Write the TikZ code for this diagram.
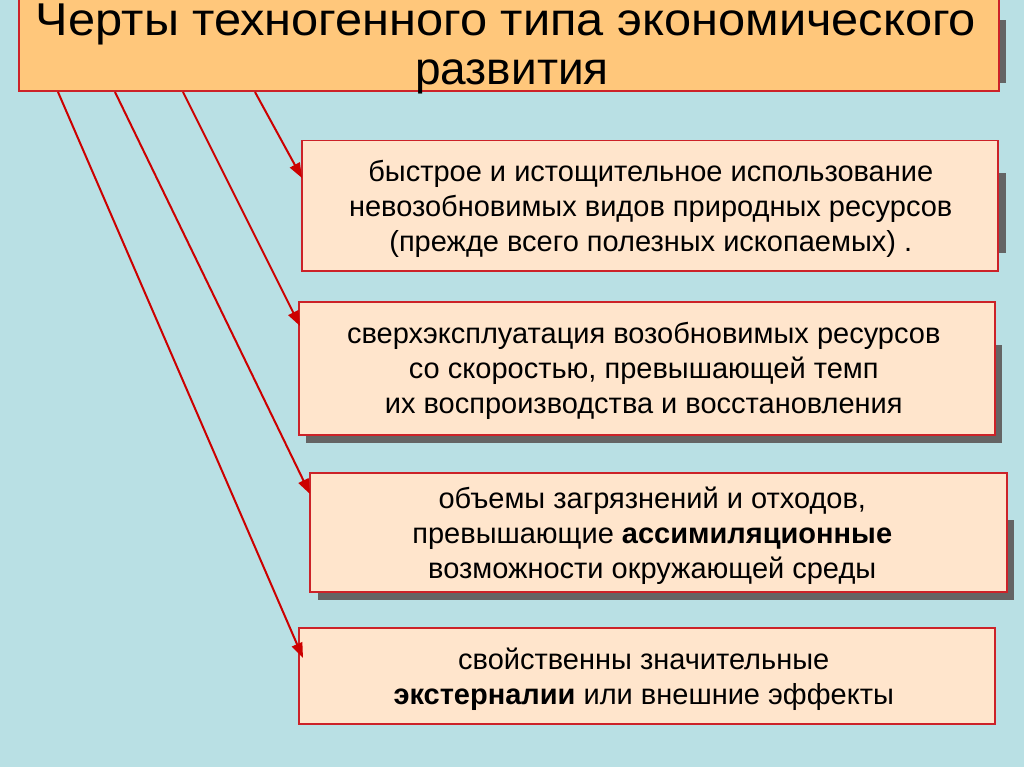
\documentclass[tikz,border=0pt]{standalone}
\usepackage{fontspec}
\setmainfont{Liberation Sans}
\usetikzlibrary{arrows.meta,calc}
\definecolor{bg}{HTML}{B9E0E4}
\definecolor{titlefill}{HTML}{FFC77B}
\definecolor{boxfill}{HTML}{FFE5CC}
\definecolor{edge}{HTML}{CC2228}
\definecolor{shad}{HTML}{646464}
\definecolor{arrowred}{HTML}{CC0000}
\tikzset{
  titlebox/.style={draw=edge, line width=1.5pt, fill=titlefill, inner sep=0pt},
  titletext/.style={font=\fontsize{46}{52}\selectfont, anchor=base, inner sep=0pt},
  featbox/.style={draw=edge, line width=1.5pt, fill=boxfill, inner sep=0pt},
  feattext/.style={align=center, inner sep=0pt, font=\fontsize{29}{35}\selectfont},
  shadow/.style={fill=shad},
  arr/.style={draw=arrowred, line width=2pt, -{Triangle[length=15pt,width=11pt]}}
}
\begin{document}
\begin{tikzpicture}[x=1pt,y=-1pt]
\useasboundingbox (0,0) rectangle (1024,767);
\fill[bg] (0,0) rectangle (1024,767);
\begin{scope}
\clip (0,0) rectangle (1024,767);
% shadows
\fill[shadow] (998,20) rectangle (1006,83);
\fill[shadow] (997,173) rectangle (1006,253);
\fill[shadow] (994,345) rectangle (1002,443);
\fill[shadow] (306,434) rectangle (1002,443);
\fill[shadow] (1006,520) rectangle (1014,600);
\fill[shadow] (318,591) rectangle (1014,600);
% title
\node[titlebox, minimum width=980pt, minimum height=110pt, anchor=south west] (t) at (18,92) {};
\node[titletext] (tt1) at (506,36) {\scalebox{1.06}[1]{Черты техногенного типа экономического}};
\node[titletext] (tt2) at (512,85) {развития};
% boxes
\node[featbox, minimum width=696pt, minimum height=130pt, anchor=north west] (b1) at (301,140) {};
\node[featbox, minimum width=696pt, minimum height=133pt, anchor=north west] (b2) at (298,301) {};
\node[featbox, minimum width=697pt, minimum height=119pt, anchor=north west] (b3) at (309,472) {};
\node[featbox, minimum width=696pt, minimum height=96pt, anchor=north west] (b4) at (298,627) {};
\node[feattext] (x1) at ($(b1.center)+(1,3)$)
  {быстрое и истощительное использование\\невозобновимых видов природных ресурсов\\(прежде всего полезных ископаемых) .};
\node[feattext] (x2) at ($(b2.center)+(-3,3)$)
  {сверхэксплуатация возобновимых ресурсов\\со скоростью, превышающей темп\\их воспроизводства и восстановления};
\node[feattext] (x3) at ($(b3.center)+(-6,3)$)
  {объемы загрязнений и отходов,\\превышающие \textbf{ассимиляционные}\\возможности окружающей среды};
\node[feattext] (x4) at ($(b4.center)+(-3,3)$)
  {свойственны значительные\\\textbf{экстерналии} или внешние эффекты};
% arrow ends
\coordinate (s1) at (58,92);
\coordinate (s2) at (115,92);
\coordinate (s3) at (183,92);
\coordinate (s4) at (255,92);
\coordinate (e1) at ($(b1.north west)+(1,38)$);
\coordinate (e2) at ($(b2.north west)+(2,25)$);
\coordinate (e3) at ($(b3.north west)+(1,22)$);
\coordinate (e4) at ($(b4.north west)+(5,31)$);
\draw[arr] (s4) -- (e1);
\draw[arr] (s3) -- (e2);
\draw[arr] (s2) -- (e3);
\draw[arr] (s1) -- (e4);
\end{scope}
\end{tikzpicture}
\end{document}
